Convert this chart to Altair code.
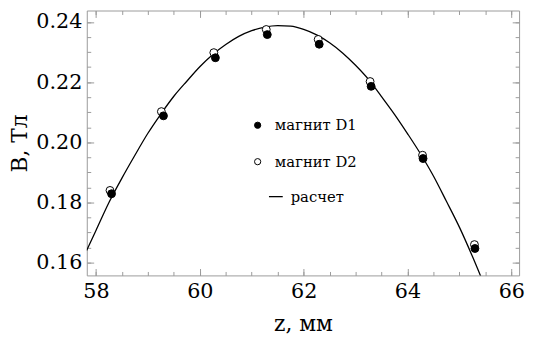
import altair as alt
import pandas as pd

# ---- data ----
z_d1 = [58.3, 59.3, 60.3, 61.3, 62.3, 63.3, 64.3, 65.3]
b_d1 = [0.1829, 0.2088, 0.2281, 0.2358, 0.2326, 0.2186, 0.1946, 0.1647]
z_d2 = [58.27, 59.26, 60.27, 61.28, 62.28, 63.28, 64.29, 65.29]
b_d2 = [0.1840, 0.2102, 0.2298, 0.2375, 0.2342, 0.2202, 0.1957, 0.1660]

z_calc = [57.82, 58.0, 58.25, 58.5, 58.75, 59.0, 59.25, 59.5, 59.75, 60.0,
          60.25, 60.5, 60.75, 61.0, 61.25, 61.5, 61.75, 62.0, 62.25, 62.5,
          62.75, 63.0, 63.25, 63.5, 63.75, 64.0, 64.25, 64.5, 64.75, 65.0,
          65.25, 65.5]
b_calc = [0.1640, 0.1707, 0.1800, 0.1881, 0.1957, 0.2030, 0.2094, 0.2153,
          0.2203, 0.2251, 0.2292, 0.2325, 0.2352, 0.2371, 0.2383, 0.2388,
          0.2386, 0.2375, 0.2357, 0.2331, 0.2297, 0.2256, 0.2209, 0.2152,
          0.2093, 0.2029, 0.1962, 0.1888, 0.1804, 0.1718, 0.1621, 0.1517]

point_series = ["магнит D1", "магнит D2"]
line_series = ["расчет"]
x_major = [58, 60, 62, 64, 66]
x_minor = [58 + 0.5 * i for i in range(17)]
y_major = [0.16, 0.18, 0.20, 0.22, 0.24]
y_minor = [round(0.16 + 0.005 * i, 3) for i in range(17)]
x_title = "z, мм"
y_title = "B, Тл"

# ---- tables ----
pts = pd.DataFrame({
    "z": z_d2 + z_d1,
    "B": b_d2 + b_d1,
    "series": [point_series[1]] * len(z_d2) + [point_series[0]] * len(z_d1),
})
curve = pd.DataFrame({"z": z_calc, "B": b_calc, "lbl": line_series * len(z_calc)})

W, H = 439, 269
FRAME = "#9a9a9a"
FONT = "DejaVu Serif"

xs = alt.Scale(domain=[57.823, 66.15], nice=False, zero=False)
ys = alt.Scale(domain=[0.15575, 0.2438], nice=False, zero=False)


def tick_axis(orient, offset, values, size):
    return alt.Axis(orient=orient, offset=offset, values=values, tickSize=size,
                    labels=False, domain=False, grid=False, title=None,
                    ticks=True, tickColor=FRAME, tickWidth=1)


label_x = alt.Axis(orient="bottom", values=x_major, format="d", ticks=False,
                   tickSize=0, domain=False, grid=False, labelFont=FONT,
                   labelFontSize=21, labelColor="black", labelPadding=5,
                   title=x_title, titleFont=FONT, titleFontSize=22,
                   titleFontWeight="normal", titleColor="black", titlePadding=13)
label_y = alt.Axis(orient="left", values=y_major, format=".2f", ticks=False,
                   tickSize=0, domain=False, grid=False, labelFont=FONT,
                   labelFontSize=21, labelColor="black", labelPadding=5,
                   title=y_title, titleFont=FONT, titleFontSize=22,
                   titleFontWeight="normal", titleColor="black", titlePadding=4)

line = alt.Chart(curve).mark_line(strokeWidth=1.3, clip=True,
                                  interpolate="monotone").encode(
    x=alt.X("z:Q", scale=xs, axis=label_x),
    y=alt.Y("B:Q", scale=ys, axis=label_y),
    color=alt.Color("lbl:N", scale=alt.Scale(domain=line_series, range=["black"]),
                    legend=alt.Legend(title=None, orient="none", legendX=184, legendY=181,
                                      labelFont=FONT, labelFontSize=15,
                                      labelColor="black", symbolType="stroke",
                                      symbolSize=196, symbolStrokeWidth=1.3,
                                      labelOffset=7)),
)

pt_legend = alt.Legend(
    title=None, orient="none", legendX=166, legendY=109,
    labelFont=FONT, labelFontSize=15, labelColor="black",
    symbolStrokeWidth=1, symbolSize=40,
    rowPadding=21, labelOffset=10,
)

points = alt.Chart(pts).mark_point(filled=True, size=64, strokeWidth=1,
                                   opacity=1).encode(
    x=alt.X("z:Q", scale=xs, axis=tick_axis("top", -H, x_major, 7)),
    y=alt.Y("B:Q", scale=ys, axis=tick_axis("right", -W, y_major, 7)),
    fill=alt.Fill("series:N", sort=None,
                  scale=alt.Scale(domain=point_series, range=["black", "white"]),
                  legend=pt_legend),
    stroke=alt.Stroke("series:N", sort=None,
                      scale=alt.Scale(domain=point_series, range=["black", "black"]),
                      legend=pt_legend),
    shape=alt.Shape("series:N", sort=None,
                    scale=alt.Scale(domain=point_series, range=["circle", "circle"]),
                    legend=pt_legend),
)


def ghost(xaxis, yaxis):
    return alt.Chart(curve).mark_line(opacity=0, clip=True).encode(
        x=alt.X("z:Q", scale=xs, axis=xaxis),
        y=alt.Y("B:Q", scale=ys, axis=yaxis),
    )


g1 = ghost(tick_axis("top", -H, x_minor, 4), tick_axis("right", -W, y_minor, 4))
g2 = ghost(tick_axis("bottom", -H, x_major, 7), tick_axis("left", -W, y_major, 7))
g3 = ghost(tick_axis("bottom", -H, x_minor, 4), tick_axis("left", -W, y_minor, 4))

chart = alt.layer(g1, g2, g3, line, points).resolve_axis(
    x="independent", y="independent"
).properties(
    width=W, height=H,
    autosize=alt.AutoSizeParams(type="none"),
    padding={"left": 80, "top": 0, "right": 6, "bottom": 62},
    background="white",
).configure_view(stroke=FRAME, strokeWidth=1)

chart.save("out.html", embed_options={"renderer": "svg", "actions": False})
